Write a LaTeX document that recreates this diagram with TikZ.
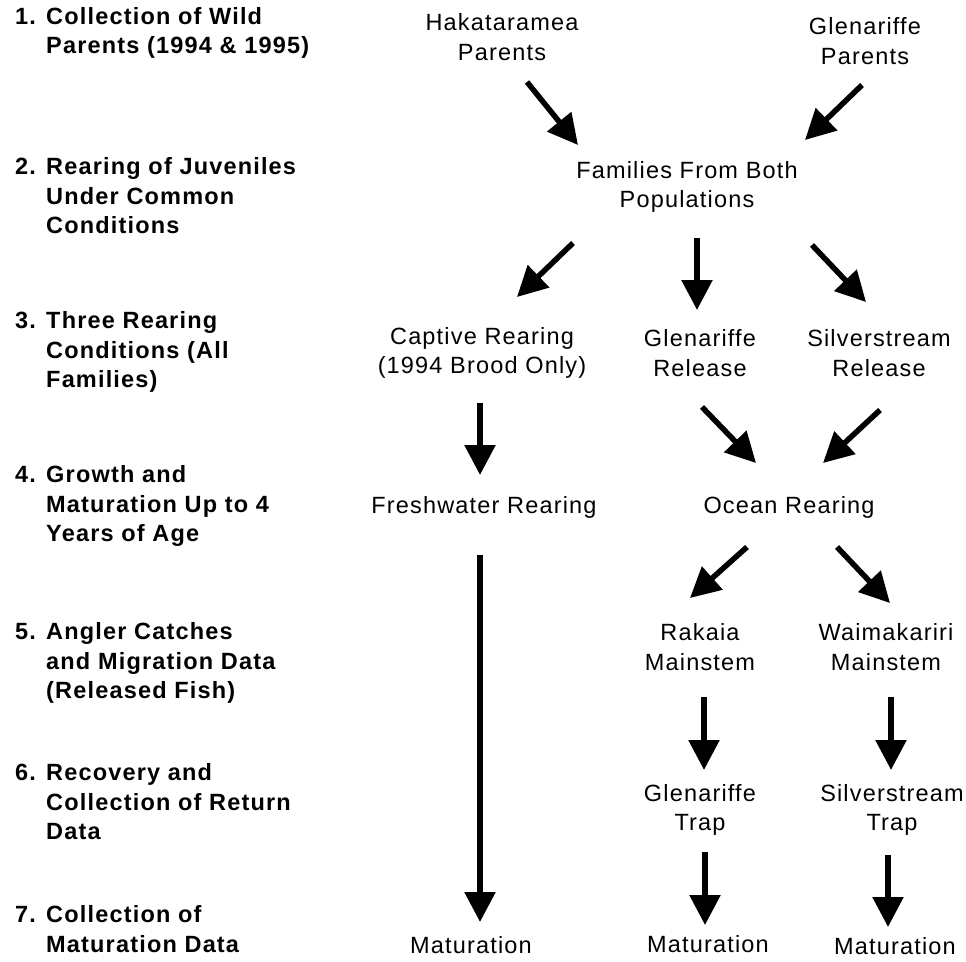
\documentclass[tikz,border=0pt]{standalone}
\usepackage{fontspec}
\setmainfont{Liberation Sans}[LetterSpace=5]
\usetikzlibrary{arrows.meta,calc}

\begin{document}
\begin{tikzpicture}[x=1pt,y=1pt,
  stage/.style={anchor=west, align=left, inner sep=0pt, font=\bfseries\fontsize{23.5}{29.5}\selectfont},
  item/.style={align=center, inner sep=0pt, font=\fontsize{23.5}{29.5}\selectfont},
  flow/.style={line width=5.5pt, -{Triangle[length=30pt,width=30pt]}}]
\useasboundingbox (0,0) rectangle (966,-961);
% stages of the study
\node[stage] (s1) at (15,-33) {1. Collection of Wild\\\hphantom{1. }Parents (1994 \& 1995)};
\node[stage] (s2) at (15,-196) {2. Rearing of Juveniles\\\hphantom{2. }Under Common\\\hphantom{2. }Conditions};
\node[stage] (s3) at (15,-352) {3. Three Rearing\\\hphantom{3. }Conditions (All\\\hphantom{3. }Families)};
\node[stage] (s4) at (15,-506) {4. Growth and\\\hphantom{4. }Maturation Up to 4\\\hphantom{4. }Years of Age};
\node[stage] (s5) at (15,-663) {5. Angler Catches\\\hphantom{5. }and Migration Data\\\hphantom{5. }(Released Fish)};
\node[stage] (s6) at (15,-802) {6. Recovery and\\\hphantom{6. }Collection of Return\\\hphantom{6. }Data};
\node[stage] (s7) at (15,-929) {7. Collection of\\\hphantom{7. }Maturation Data};
% fish groups
\node[item] (hak) at (502,-37) {Hakataramea\\Parents};
\node[item] (gpar) at (865,-41) {Glenariffe\\Parents};
\node[item] (fam) at (687,-187) {Families From Both\\Populations};
\node[item] (capt) at (482,-353) {Captive Rearing\\(1994 Brood Only)};
\node[item] (grel) at (700,-353) {Glenariffe\\Release};
\node[item] (srel) at (879,-353) {Silverstream\\Release};
\node[item] (fresh) at (484,-507) {Freshwater Rearing};
\node[item] (ocean) at (789,-507) {Ocean Rearing};
\node[item] (rak) at (700,-647) {Rakaia\\Mainstem};
\node[item] (waim) at (886,-647) {Waimakariri\\Mainstem};
\node[item] (gtrap) at (700,-810) {Glenariffe\\Trap};
\node[item] (strap) at (892,-810) {Silverstream\\Trap};
\node[item] (mat1) at (471,-945) {Maturation};
\node[item] (mat2) at (708,-944) {Maturation};
\node[item] (mat3) at (895,-946) {Maturation};
% arrows
\draw[flow] ($(hak)+(25,-45)$) -- ($(fam)+(-109,42)$);
\draw[flow] ($(gpar)+(-3,-44)$) -- ($(fam)+(118,47)$);
\draw[flow] ($(fam)+(-114,-56)$) -- ($(capt)+(35,56)$);
\draw[flow] ($(fam)+(10,-51)$) -- ($(grel)+(-3,43)$);
\draw[flow] ($(fam)+(125,-58)$) -- ($(srel)+(-13,51)$);
\draw[flow] ($(capt)+(-2,-50)$) -- ($(fresh)+(-4,32)$);
\draw[flow] ($(grel)+(2,-54)$) -- ($(ocean)+(-33,44)$);
\draw[flow] ($(srel)+(1,-57)$) -- ($(ocean)+(34,44)$);
\draw[flow] ($(fresh)+(-4,-48)$) -- ($(mat1)+(9,23)$);
\draw[flow] ($(ocean)+(-42,-40)$) -- ($(rak)+(-10,49)$);
\draw[flow] ($(ocean)+(48,-40)$) -- ($(waim)+(4,44)$);
\draw[flow] ($(rak)+(4,-50)$) -- ($(gtrap)+(4,40)$);
\draw[flow] ($(waim)+(5,-50)$) -- ($(strap)+(-1,40)$);
\draw[flow] ($(gtrap)+(5,-42)$) -- ($(mat2)+(-3,19)$);
\draw[flow] ($(strap)+(-4,-45)$) -- ($(mat3)+(-7,19)$);
\end{tikzpicture}
\end{document}
